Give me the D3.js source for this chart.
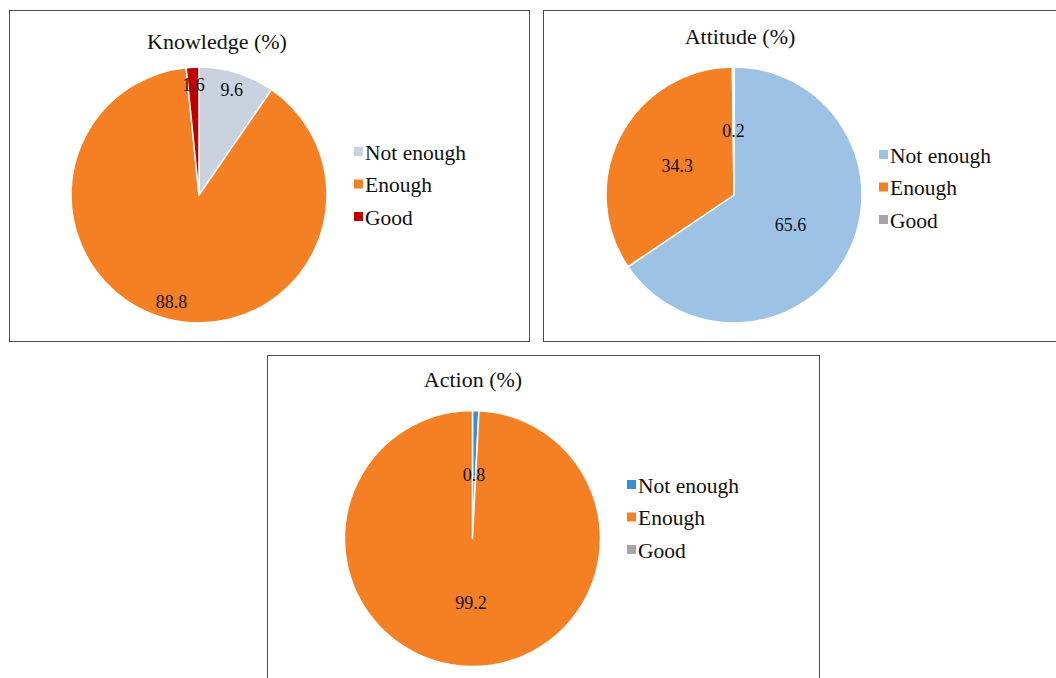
<!DOCTYPE html>
<html>
<head>
<meta charset="utf-8">
<script src="https://cdn.jsdelivr.net/npm/d3@7"></script>
<style>
  html, body { margin: 0; padding: 0; background: #fff; }
  svg { display: block; }
</style>
</head>
<body>
<svg id="chart" width="1056" height="678"></svg>
<script>
// Response levels shared by all three pies
const categories = ["Not enough", "Enough", "Good"];

// Percentages per domain
const knowledgeValues = [9.6, 88.8, 1.6];
const attitudeValues  = [65.6, 34.3, 0.2];
const actionValues    = [0.8, 99.2, 0.0];

const knowledgeTitle = "Knowledge (%)";
const attitudeTitle  = "Attitude (%)";
const actionTitle    = "Action (%)";

// Slice colours per panel
const knowledgeColors = ["#C9D2DE", "#F58024", "#C00000"];
const attitudeColors  = ["#9DC2E6", "#F58024", "#A5A5A5"];
const actionColors    = ["#3B8ED6", "#F58024", "#A5A5A5"];

const FONT = "'Liberation Serif', 'Times New Roman', Times, serif";

// Panel layout: frame, pie centre/radius, title, legend, label radius factor
const panels = [
  { title: knowledgeTitle, values: knowledgeValues, colors: knowledgeColors,
    frame: [9.5, 10.5, 520, 331], cx: 199, cy: 195, r: 128,
    titleX: 217, titleY: 49, legendX: 354, legendY: 152, labelK: 0.86 },
  { title: attitudeTitle, values: attitudeValues, colors: attitudeColors,
    frame: [543.5, 10.5, 530, 331], cx: 734, cy: 195, r: 128,
    titleX: 740, titleY: 44, legendX: 879, legendY: 155, labelK: 0.5 },
  { title: actionTitle, values: actionValues, colors: actionColors,
    frame: [267.5, 355.5, 552, 340], cx: 472.5, cy: 538.5, r: 128,
    titleX: 473, titleY: 387, legendX: 627, legendY: 485, labelK: 0.5 }
];

const svg = d3.select("#chart");

const pie = d3.pie().sort(null).value(d => d.value).startAngle(0).endAngle(2 * Math.PI);

panels.forEach(p => {
  const g = svg.append("g");

  // Panel frame
  g.append("rect")
    .attr("x", p.frame[0]).attr("y", p.frame[1])
    .attr("width", p.frame[2]).attr("height", p.frame[3])
    .attr("fill", "none").attr("stroke", "#4d4d4d").attr("stroke-width", 1);

  // Title
  g.append("text")
    .attr("x", p.titleX).attr("y", p.titleY)
    .attr("text-anchor", "middle")
    .attr("font-family", FONT)
    .attr("font-size", 22)
    .attr("fill", "#111")
    .text(p.title);

  const data = categories.map((c, i) => ({ name: c, value: p.values[i], color: p.colors[i] }));
  const arcs = pie(data);
  const arc = d3.arc().innerRadius(0).outerRadius(p.r);

  const pg = g.append("g").attr("transform", `translate(${p.cx},${p.cy})`);

  pg.selectAll("path.slice")
    .data(arcs.filter(d => d.data.value > 0))
    .join("path")
    .attr("class", "slice")
    .attr("d", arc)
    .attr("fill", d => d.data.color)
    .attr("stroke", "#fff")
    .attr("stroke-width", 1.5)
    .attr("stroke-linejoin", "round");

  // Value labels along each slice's mid-angle
  pg.selectAll("text.val")
    .data(arcs.filter(d => d.data.value > 0))
    .join("text")
    .attr("class", "val")
    .attr("transform", d => {
      const a = (d.startAngle + d.endAngle) / 2;
      const rr = p.r * p.labelK;
      return `translate(${rr * Math.sin(a)},${-rr * Math.cos(a)})`;
    })
    .attr("text-anchor", "middle")
    .attr("dy", "0.35em")
    .attr("font-family", FONT)
    .attr("font-size", 18)
    .attr("fill", "#111")
    .text(d => d3.format(".1f")(d.data.value));

  // Legend
  const lg = g.append("g").attr("transform", `translate(${p.legendX},${p.legendY})`);
  const item = lg.selectAll("g.item")
    .data(data)
    .join("g")
    .attr("class", "item")
    .attr("transform", (d, i) => `translate(0,${i * 32.5})`);
  item.append("rect")
    .attr("x", 0).attr("y", -5).attr("width", 9).attr("height", 9)
    .attr("fill", d => d.color);
  item.append("text")
    .attr("x", 11).attr("y", 0)
    .attr("dy", "0.35em")
    .attr("font-family", FONT)
    .attr("font-size", 21.5)
    .attr("fill", "#111")
    .text(d => d.name);
});
</script>
</body>
</html>
